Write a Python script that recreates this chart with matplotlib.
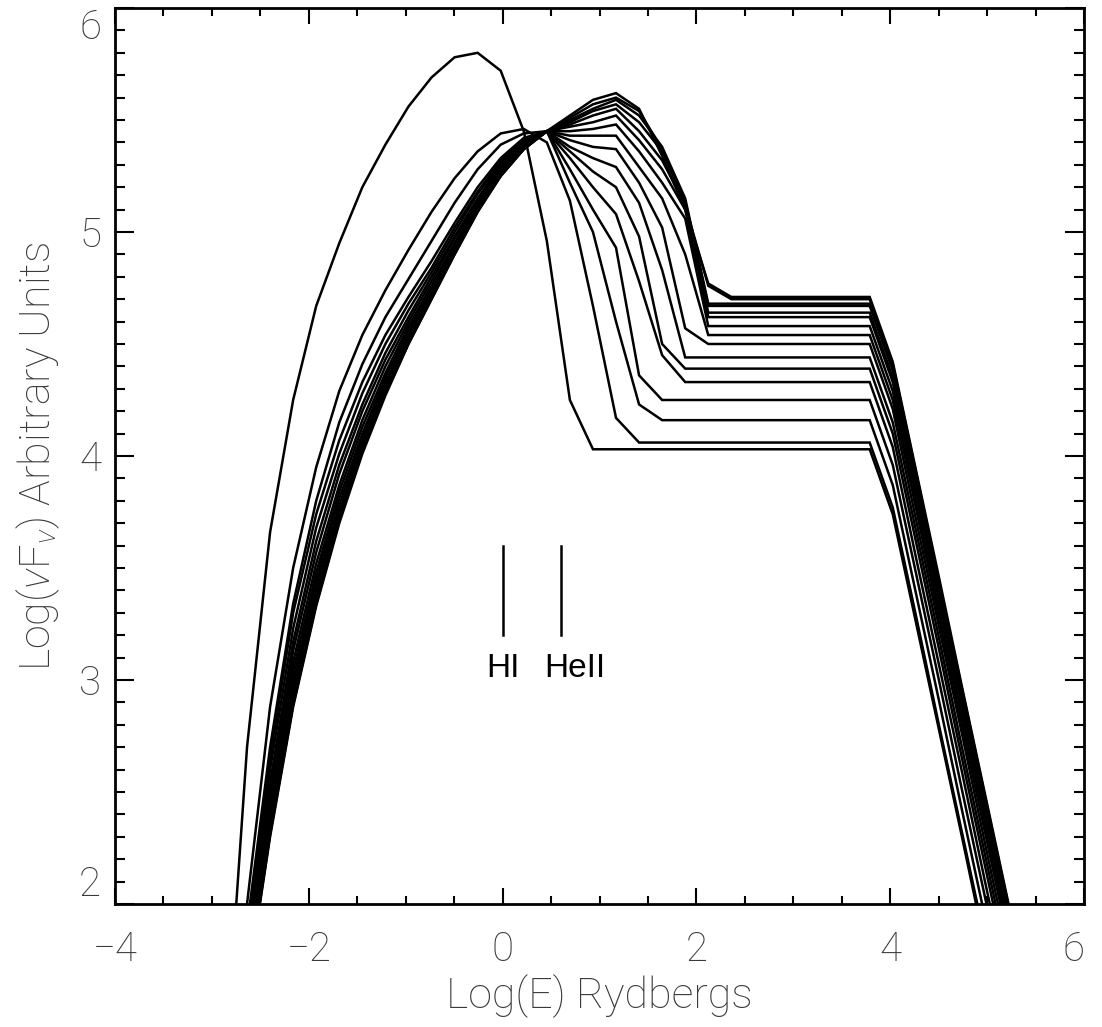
import numpy as np
import matplotlib
matplotlib.use("Agg")
import matplotlib.pyplot as plt
from matplotlib.ticker import MultipleLocator

nan = np.nan

# Common energy grid, Log(E) in Rydbergs
log_e = [-2.876, -2.638, -2.400, -2.162, -1.924, -1.686, -1.448, -1.210, -0.972,
         -0.734, -0.496, -0.258, -0.020, 0.218, 0.456, 0.694, 0.932, 1.170,
         1.408, 1.646, 1.884, 2.122, 2.360, 2.598, 2.836, 3.074, 3.312, 3.550,
         3.788, 4.026, 4.264, 4.502, 4.740, 4.978, 5.216, 5.454]

# Log(nu F_nu) for each model spectrum
sed_01 = [1.20, 2.70, 3.66, 4.25, 4.67, 4.95, 5.20, 5.39, 5.56, 5.69, 5.78, 5.80,
          5.72, 5.45, 4.96, 4.25, 4.03, 4.03, 4.03, 4.03, 4.03, 4.03, 4.03, 4.03,
          4.03, 4.03, 4.03, 4.03, 4.03, 3.74, 3.26, 2.78, 2.30, 1.81, 1.33, 0.85]
sed_02 = [1.10, 2.00, 2.88, 3.50, 3.95, 4.29, 4.54, 4.74, 4.92, 5.09, 5.24, 5.36,
          5.44, 5.46, 5.40, 5.14, 4.67, 4.17, 4.06, 4.06, 4.06, 4.06, 4.06, 4.06,
          4.06, 4.06, 4.06, 4.06, 4.06, 3.77, 3.29, 2.80, 2.32, 1.84, 1.35, 0.87]
sed_03 = [nan, 1.90, 2.70, 3.34, 3.80, 4.15, 4.41, 4.62, 4.79, 4.96, 5.13, 5.28,
          5.39, 5.44, 5.45, 5.22, 5.00, 4.60, 4.23, 4.16, 4.16, 4.16, 4.16, 4.16,
          4.16, 4.16, 4.16, 4.16, 4.16, 3.87, 3.39, 2.91, 2.42, 1.94, 1.46, 0.97]
sed_04 = [nan, 1.86, 2.65, 3.30, 3.74, 4.07, 4.33, 4.54, 4.71, 4.87, 5.04, 5.20,
          5.33, 5.42, 5.45, 5.28, 5.10, 4.93, 4.36, 4.25, 4.25, 4.25, 4.25, 4.25,
          4.25, 4.25, 4.25, 4.25, 4.25, 3.96, 3.48, 3.00, 2.51, 2.03, 1.55, 1.07]
sed_05 = [nan, 1.82, 2.60, 3.23, 3.68, 4.01, 4.28, 4.50, 4.68, 4.84, 5.02, 5.18,
          5.32, 5.41, 5.45, 5.33, 5.20, 5.08, 4.78, 4.45, 4.33, 4.33, 4.33, 4.33,
          4.33, 4.33, 4.33, 4.33, 4.33, 4.04, 3.55, 3.07, 2.59, 2.10, 1.62, 1.14]
sed_06 = [nan, 1.79, 2.54, 3.17, 3.62, 3.96, 4.23, 4.46, 4.65, 4.82, 5.00, 5.17,
          5.31, 5.40, 5.45, 5.36, 5.27, 5.20, 4.98, 4.50, 4.39, 4.39, 4.39, 4.39,
          4.39, 4.39, 4.39, 4.39, 4.39, 4.10, 3.62, 3.14, 2.65, 2.17, 1.69, 1.20]
sed_07 = [nan, 1.76, 2.50, 3.13, 3.57, 3.92, 4.20, 4.43, 4.62, 4.80, 4.98, 5.15,
          5.30, 5.40, 5.45, 5.38, 5.33, 5.29, 5.13, 4.83, 4.44, 4.44, 4.44, 4.44,
          4.44, 4.44, 4.44, 4.44, 4.44, 4.15, 3.67, 3.19, 2.70, 2.22, 1.74, 1.26]
sed_08 = [nan, 1.73, 2.46, 3.08, 3.52, 3.87, 4.16, 4.40, 4.60, 4.78, 4.97, 5.14,
          5.29, 5.39, 5.45, 5.41, 5.38, 5.37, 5.22, 5.02, 4.57, 4.50, 4.50, 4.50,
          4.50, 4.50, 4.50, 4.50, 4.50, 4.21, 3.72, 3.24, 2.76, 2.27, 1.79, 1.31]
sed_09 = [nan, 1.71, 2.43, 3.04, 3.48, 3.84, 4.13, 4.37, 4.58, 4.76, 4.95, 5.13,
          5.28, 5.39, 5.45, 5.43, 5.43, 5.43, 5.29, 5.15, 4.90, 4.54, 4.54, 4.54,
          4.54, 4.54, 4.54, 4.54, 4.54, 4.25, 3.77, 3.28, 2.80, 2.32, 1.84, 1.35]
sed_10 = [nan, 1.69, 2.40, 3.00, 3.45, 3.81, 4.10, 4.35, 4.56, 4.75, 4.94, 5.12,
          5.27, 5.38, 5.45, 5.45, 5.46, 5.48, 5.36, 5.22, 5.06, 4.58, 4.58, 4.58,
          4.58, 4.58, 4.58, 4.58, 4.58, 4.29, 3.80, 3.32, 2.84, 2.36, 1.87, 1.39]
sed_11 = [nan, 1.67, 2.37, 2.97, 3.42, 3.78, 4.08, 4.33, 4.54, 4.74, 4.93, 5.11,
          5.27, 5.38, 5.45, 5.47, 5.49, 5.52, 5.41, 5.28, 5.10, 4.62, 4.62, 4.62,
          4.62, 4.62, 4.62, 4.62, 4.62, 4.33, 3.84, 3.36, 2.88, 2.39, 1.91, 1.43]
sed_12 = [nan, 1.66, 2.35, 2.94, 3.39, 3.75, 4.06, 4.31, 4.53, 4.73, 4.92, 5.11,
          5.26, 5.38, 5.45, 5.48, 5.52, 5.55, 5.45, 5.32, 5.12, 4.64, 4.64, 4.64,
          4.64, 4.64, 4.64, 4.64, 4.64, 4.35, 3.87, 3.39, 2.91, 2.42, 1.94, 1.46]
sed_13 = [nan, 1.64, 2.33, 2.92, 3.37, 3.74, 4.04, 4.30, 4.52, 4.72, 4.91, 5.10,
          5.26, 5.37, 5.45, 5.49, 5.54, 5.57, 5.49, 5.36, 5.14, 4.67, 4.67, 4.67,
          4.67, 4.67, 4.67, 4.67, 4.67, 4.38, 3.89, 3.41, 2.93, 2.45, 1.96, 1.48]
sed_14 = [nan, 1.63, 2.32, 2.91, 3.35, 3.72, 4.03, 4.29, 4.51, 4.71, 4.91, 5.10,
          5.25, 5.37, 5.45, 5.50, 5.55, 5.59, 5.52, 5.38, 5.15, 4.68, 4.68, 4.68,
          4.68, 4.68, 4.68, 4.68, 4.68, 4.39, 3.91, 3.43, 2.95, 2.46, 1.98, 1.50]
sed_15 = [nan, 1.63, 2.31, 2.89, 3.34, 3.71, 4.02, 4.28, 4.50, 4.70, 4.90, 5.09,
          5.25, 5.37, 5.45, 5.51, 5.57, 5.60, 5.54, 5.37, 5.12, 4.76, 4.70, 4.70,
          4.70, 4.70, 4.70, 4.70, 4.70, 4.41, 3.93, 3.44, 2.96, 2.48, 2.00, 1.51]
sed_16 = [nan, 1.62, 2.30, 2.88, 3.33, 3.70, 4.01, 4.27, 4.50, 4.70, 4.90, 5.09,
          5.25, 5.37, 5.45, 5.52, 5.59, 5.62, 5.55, 5.34, 5.10, 4.77, 4.71, 4.71,
          4.71, 4.71, 4.71, 4.71, 4.71, 4.42, 3.94, 3.46, 2.97, 2.49, 2.01, 1.52]

seds = [sed_01, sed_02, sed_03, sed_04, sed_05, sed_06, sed_07, sed_08,
        sed_09, sed_10, sed_11, sed_12, sed_13, sed_14, sed_15, sed_16]

# Ionisation edges (Log E) and marker extent
edge_names = ["HI", "HeII"]
edge_pos = [0.0, 0.602]
edge_y = [3.2, 3.6]

x_ticks = [-4, -2, 0, 2, 4, 6]
y_ticks = [2, 3, 4, 5, 6]

FONT = "Roboto"
LABEL_COLOR = "#3a3a3a"

plt.rcParams["mathtext.fontset"] = "custom"
plt.rcParams["mathtext.rm"] = "Roboto:light"
plt.rcParams["mathtext.it"] = "Roboto:light:italic"

fig = plt.figure(figsize=(11.02, 10.27), dpi=100)
ax = fig.add_axes([0.1044, 0.1198, 0.8793, 0.8724])

x = np.array(log_e)
for s in seds:
    ax.plot(x, np.array(s, dtype=float), color="black", lw=1.8,
            solid_joinstyle="miter")

for xp in edge_pos:
    ax.plot([xp, xp], edge_y, color="black", lw=1.8)
ax.text(edge_pos[0], 3.05, edge_names[0], ha="center", va="center",
        fontsize=24, family="Liberation Sans")
ax.text(edge_pos[1] + 0.14, 3.05, edge_names[1], ha="center", va="center",
        fontsize=24, family="Liberation Sans")

ax.set_xlim(-4, 6)
ax.set_ylim(2, 6)
ax.set_xticks(x_ticks)
ax.set_yticks(y_ticks)
ax.set_xticklabels(["\u2212" + str(-t) if t < 0 else str(t) for t in x_ticks])
ax.set_yticklabels([str(t) for t in y_ticks])
ax.xaxis.set_minor_locator(MultipleLocator(0.5))
ax.yaxis.set_minor_locator(MultipleLocator(0.1))

ax.tick_params(axis="both", which="both", direction="in",
               top=True, right=True, width=1.5, colors="black",
               labelcolor=LABEL_COLOR)
ax.tick_params(axis="x", which="major", length=11.5, pad=19)
ax.tick_params(axis="x", which="minor", length=5.5)
ax.tick_params(axis="y", which="major", length=13.5, pad=10)
ax.tick_params(axis="y", which="minor", length=7)

for lab in ax.get_xticklabels() + ax.get_yticklabels():
    lab.set_fontfamily(FONT)
    lab.set_fontweight("light")
    lab.set_fontsize(29)

# keep the end labels of the y axis inside the frame, as in the original
ylabs = ax.get_yticklabels()
ylabs[0].set_verticalalignment("bottom")
ylabs[-1].set_verticalalignment("top")
xlabs = ax.get_xticklabels()
xlabs[-1].set_horizontalalignment("right")

for sp in ax.spines.values():
    sp.set_linewidth(2.0)

ax.set_xlabel("Log(E) Rydbergs", fontsize=31, family=FONT, weight="light",
              color=LABEL_COLOR, labelpad=4)
ax.set_ylabel(r"Log($\nu$F$_{\nu}$) Arbitrary Units", fontsize=31, family=FONT,
              weight="light", color=LABEL_COLOR, labelpad=12)

fig.savefig("out.png", dpi=100)
